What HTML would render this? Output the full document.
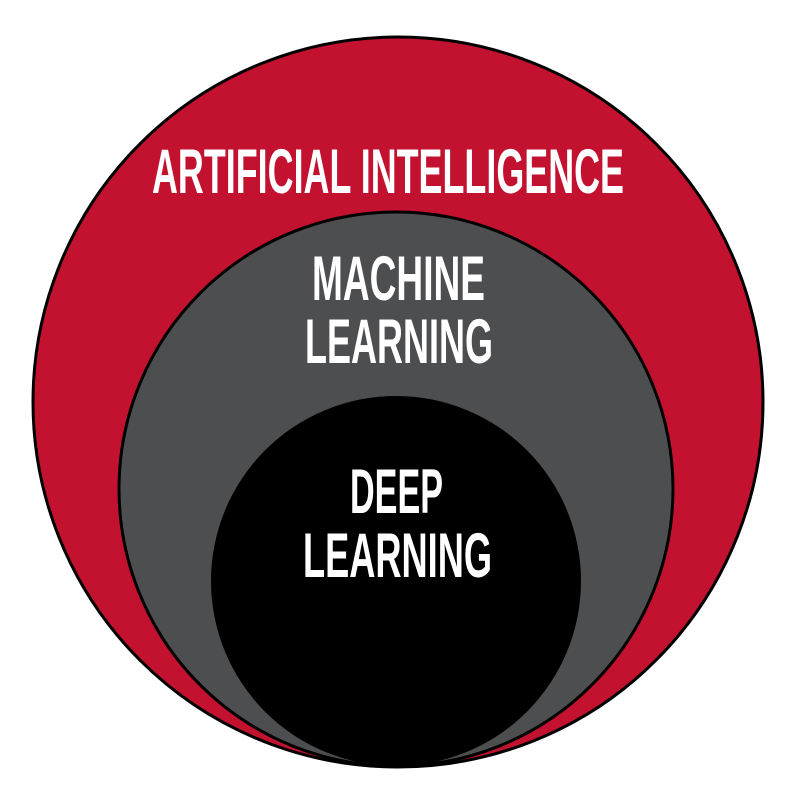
<!DOCTYPE html>
<html><head><style>html,body{margin:0;padding:0;background:#fff}svg{display:block}</style></head>
<body>
<svg width="792" height="798" viewBox="0 0 792 798" xmlns="http://www.w3.org/2000/svg">
<circle cx="398" cy="402" r="365" fill="#c21230" stroke="#000" stroke-width="3"/>
<circle cx="396" cy="489" r="277" fill="#4d4e50" stroke="#000" stroke-width="3"/>
<circle cx="396" cy="581" r="185" fill="#000"/>
<g font-family="'Liberation Sans Narrow','Liberation Sans',sans-serif" font-weight="bold" font-size="63" fill="#fff">
<text x="152" y="193" textLength="472" lengthAdjust="spacingAndGlyphs">ARTIFICIAL INTELLIGENCE</text>
<text x="312" y="300" textLength="173" lengthAdjust="spacingAndGlyphs">MACHINE</text>
<text x="305" y="363" textLength="188" lengthAdjust="spacingAndGlyphs">LEARNING</text>
<text x="350" y="513" textLength="93" lengthAdjust="spacingAndGlyphs">DEEP</text>
<text x="303" y="577" textLength="189" lengthAdjust="spacingAndGlyphs">LEARNING</text>
</g>
</svg>
</body></html>
